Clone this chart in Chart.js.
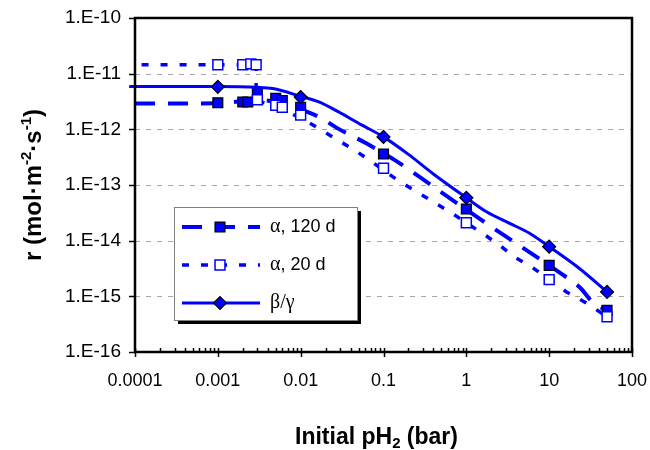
<!DOCTYPE html>
<html>
<head>
<meta charset="utf-8">
<script src="https://cdn.jsdelivr.net/npm/chart.js@4/dist/chart.umd.min.js"></script>
<style>
html, body { margin: 0; padding: 0; background: #ffffff; }
#c { display: block; }
</style>
</head>
<body>
<canvas id="c" width="650" height="450"></canvas>
<script>
// ---------- data ----------
const seriesNames = ['α, 120 d', 'α, 20 d', 'β/γ'];
const xTitleMain = 'Initial pH';
const xTitleSub = '2';
const xTitleTail = ' (bar)';
const yTitleParts = ['r (mol·m', '-2', '·s', '-1', ')'];

const xTicks = [0.0001, 0.001, 0.01, 0.1, 1, 10, 100];
const xTickLabels = ['0.0001', '0.001', '0.01', '0.1', '1', '10', '100'];
const yTicks = [1e-16, 1e-15, 1e-14, 1e-13, 1e-12, 1e-11, 1e-10];
const yTickLabels = ['1.E-16', '1.E-15', '1.E-14', '1.E-13', '1.E-12', '1.E-11', '1.E-10'];

// measured points: alpha, 120 d (filled squares)
const a120X = [0.001, 0.002, 0.0023, 0.003, 0.005, 0.006, 0.01, 0.1, 1, 10, 50];
const a120Y = [3.0e-12, 3.1e-12, 3.1e-12, 4.5e-12, 3.6e-12, 3.3e-12, 2.5e-12, 3.6e-13, 3.7e-14, 3.6e-15, 5.6e-16];
// measured points: alpha, 20 d (open squares)
const a20X = [0.001, 0.002, 0.0025, 0.0029, 0.003, 0.005, 0.006, 0.01, 0.1, 1, 10, 50];
const a20Y = [1.45e-11, 1.45e-11, 1.5e-11, 1.45e-11, 3.4e-12, 2.7e-12, 2.5e-12, 1.8e-12, 2.0e-13, 2.1e-14, 2.0e-15, 4.3e-16];
// measured points: beta/gamma (diamonds)
const bgX = [0.001, 0.01, 0.1, 1, 10, 50];
const bgY = [5.8e-12, 3.8e-12, 7.3e-13, 5.9e-14, 7.8e-15, 1.2e-15];

// model curves
const fit120X = [0.0001, 0.001, 0.002, 0.003, 0.006, 0.0118, 0.017, 0.028, 0.062, 0.137, 0.298, 0.63, 1.38, 2.78, 5.7, 13, 24, 33, 50];
const fit120Y = [2.9e-12, 2.95e-12, 3.2e-12, 3.4e-12, 2.9e-12, 2.08e-12, 1.64e-12, 1.04e-12, 5.6e-13, 2.8e-13, 1.27e-13, 5.8e-14, 2.6e-14, 1.28e-14, 6.3e-15, 2.75e-15, 1.4e-15, 8e-16, 5.5e-16];
const fit20X = [0.00012, 0.0029, 0.0029, 0.005, 0.0112, 0.0179, 0.0271, 0.043, 0.0652, 0.157, 0.25, 0.397, 0.63, 1.75, 2.65, 3.8, 6.1, 16.2, 28, 50];
const fit20Y = [1.45e-11, 1.45e-11, 3.3e-12, 2.6e-12, 1.47e-12, 9.7e-13, 6.6e-13, 4.4e-13, 2.9e-13, 1.15e-13, 7.6e-14, 5.0e-14, 3.3e-14, 1.21e-14, 7.8e-15, 5.1e-15, 3.4e-15, 1.2e-15, 7.6e-16, 4.3e-16];
const fitBgX = [0.000085, 0.001, 0.003, 0.0046, 0.0103, 0.0163, 0.0283, 0.0543, 0.0989, 0.2, 0.4, 1, 1.75, 3.33, 5.8, 10, 23, 50];
const fitBgY = [5.9e-12, 5.9e-12, 5.7e-12, 5.4e-12, 3.86e-12, 3.14e-12, 2.08e-12, 1.2e-12, 7.4e-13, 3.55e-13, 1.58e-13, 5.9e-14, 3.3e-14, 2.05e-14, 1.36e-14, 7.8e-15, 3.2e-15, 1.2e-15];

// ---------- helpers ----------
const pts = (xs, ys) => xs.map((x, i) => ({ x: x, y: ys[i] }));
const BLUE = '#0000ff';
const SANS = "'Liberation Sans', Arial, sans-serif";
const SERIF = "'Liberation Serif', 'Times New Roman', serif";

function drawMarker(ctx, ds, x, y) {
  ctx.save();
  ctx.setLineDash([]);
  ctx.fillStyle = ds.pointBackgroundColor;
  ctx.strokeStyle = ds.pointBorderColor;
  ctx.lineWidth = ds.pointBorderWidth;
  const r = ds.pointRadius;
  ctx.beginPath();
  if (ds.pointStyle === 'rectRot') {
    ctx.moveTo(x - r, y); ctx.lineTo(x, y - r); ctx.lineTo(x + r, y); ctx.lineTo(x, y + r); ctx.closePath();
  } else {
    const s = Math.SQRT1_2 * r;
    ctx.rect(x - s, y - s, 2 * s, 2 * s);
  }
  ctx.fill(); ctx.stroke();
  ctx.restore();
}

const legendRows = [
  { line: 0, marker: 1 },
  { line: 2, marker: 3 },
  { line: 4, marker: 5 }
];

function noPad(s) { s.paddingLeft = 0; s.paddingRight = 0; s.paddingTop = 0; s.paddingBottom = 0; }

const extras = {
  id: 'extras',
  beforeDatasetsDraw(chart) {
    const { ctx, chartArea: a } = chart;
    const ys = chart.scales.y;
    ctx.save();
    ctx.strokeStyle = '#a6a6a6';
    ctx.lineWidth = 1;
    ctx.setLineDash([5, 6]);
    yTicks.forEach((v, i) => {
      if (i === 0 || i === yTicks.length - 1) return;
      const py = Math.round(ys.getPixelForValue(v)) + 0.5;
      ctx.beginPath(); ctx.moveTo(a.left, py); ctx.lineTo(a.right, py); ctx.stroke();
    });
    ctx.restore();
  },
  afterDatasetsDraw(chart) {
    const { ctx, chartArea: a } = chart;
    const xs = chart.scales.x, ys = chart.scales.y;
    ctx.save();
    ctx.setLineDash([]);
    // frame
    ctx.strokeStyle = '#000';
    ctx.lineWidth = 2.5;
    ctx.strokeRect(a.left, a.top, a.right - a.left, a.bottom - a.top);
    // y ticks (outside)
    ctx.lineWidth = 1.5;
    yTicks.forEach(v => {
      const py = Math.round(ys.getPixelForValue(v)) + 0.5;
      ctx.beginPath(); ctx.moveTo(a.left - 6, py); ctx.lineTo(a.left, py); ctx.stroke();
    });
    // x major ticks (cross) and minor ticks (inside)
    xTicks.forEach((v, i) => {
      const px = Math.round(xs.getPixelForValue(v)) + 0.5;
      ctx.beginPath(); ctx.moveTo(px, a.bottom - 4); ctx.lineTo(px, a.bottom + 5); ctx.stroke();
      if (i < xTicks.length - 1) {
        for (let m = 2; m <= 9; m++) {
          const mx = Math.round(xs.getPixelForValue(v * m)) + 0.5;
          ctx.beginPath(); ctx.moveTo(mx, a.bottom - 4); ctx.lineTo(mx, a.bottom); ctx.stroke();
        }
      }
    });
    ctx.restore();

    // legend
    const ds = chart.data.datasets;
    const bx = a.left + 39, by = a.top + 189, bw = 183, bh = 113;
    ctx.save();
    ctx.fillStyle = '#000';
    ctx.fillRect(bx + 4, by + 4, bw, bh);
    ctx.fillStyle = '#fff';
    ctx.fillRect(bx, by, bw, bh);
    ctx.strokeStyle = '#808080';
    ctx.lineWidth = 1;
    ctx.strokeRect(bx + 0.5, by + 0.5, bw, bh);
    legendRows.forEach((row, i) => {
      const ly = by + 20 + i * 38;
      const lds = ds[row.line], mds = ds[row.marker];
      ctx.save();
      ctx.strokeStyle = lds.borderColor;
      ctx.lineWidth = lds.borderWidth;
      ctx.setLineDash(lds.borderDash || []);
      ctx.beginPath(); ctx.moveTo(bx + 8, ly); ctx.lineTo(bx + 86, ly); ctx.stroke();
      ctx.restore();
      drawMarker(ctx, mds, bx + 46, ly);
      const label = seriesNames[i];
      ctx.fillStyle = '#000';
      ctx.textBaseline = 'middle';
      ctx.textAlign = 'left';
      let tx = bx + 96;
      if (/^[α-ω\/]+$/.test(label)) {
        ctx.font = '20px ' + SERIF;
        ctx.fillText(label, tx, ly);
      } else {
        ctx.font = '20px ' + SERIF;
        ctx.fillText(label[0], tx, ly);
        tx += ctx.measureText(label[0]).width;
        ctx.font = '18px ' + SANS;
        ctx.fillText(label.slice(1), tx, ly);
      }
    });
    ctx.restore();

    // axis titles
    ctx.save();
    ctx.fillStyle = '#000';
    ctx.textBaseline = 'alphabetic';
    ctx.textAlign = 'left';
    let big = 'bold 23px ' + SANS, small = 'bold 15px ' + SANS;
    // x title
    ctx.font = big;
    const w1 = ctx.measureText(xTitleMain).width;
    const w3 = ctx.measureText(xTitleTail).width;
    ctx.font = small;
    const w2 = ctx.measureText(xTitleSub).width;
    let tx = (a.left + a.right) / 2 - 7 - (w1 + w2 + w3) / 2;
    const tyb = 444;
    ctx.font = big; ctx.fillText(xTitleMain, tx, tyb); tx += w1;
    ctx.font = small; ctx.fillText(xTitleSub, tx, tyb + 4); tx += w2;
    ctx.font = big; ctx.fillText(xTitleTail, tx, tyb);
    // y title (rotated)
    big = 'bold 24px ' + SANS; small = 'bold 15px ' + SANS;
    ctx.translate(41, (a.top + a.bottom) / 2);
    ctx.rotate(-Math.PI / 2);
    const widths = yTitleParts.map((p, i) => { ctx.font = (i % 2 ? small : big); return ctx.measureText(p).width; });
    let yx = -widths.reduce((s, w) => s + w, 0) / 2;
    yTitleParts.forEach((p, i) => {
      ctx.font = (i % 2 ? small : big);
      ctx.fillText(p, yx, i % 2 ? -10 : 0);
      yx += widths[i];
    });
    ctx.restore();
  }
};

new Chart(document.getElementById('c'), {
  type: 'scatter',
  data: {
    datasets: [
      { label: seriesNames[0], data: pts(fit120X, fit120Y), showLine: true, pointRadius: 0, borderColor: BLUE, borderWidth: 4, borderDash: [20, 13], cubicInterpolationMode: 'monotone', fill: false, order: 5 },
      { label: seriesNames[0], data: pts(a120X, a120Y), showLine: false, pointStyle: 'rect', pointRadius: 7, pointBackgroundColor: BLUE, pointBorderColor: '#000', pointBorderWidth: 1.2, order: 4 },
      { label: seriesNames[1], data: pts(fit20X, fit20Y), showLine: true, pointRadius: 0, borderColor: BLUE, borderWidth: 3.5, borderDash: [7, 12], tension: 0, fill: false, order: 3 },
      { label: seriesNames[1], data: pts(a20X, a20Y), showLine: false, pointStyle: 'rect', pointRadius: 7, pointBackgroundColor: '#ffffff', pointBorderColor: BLUE, pointBorderWidth: 1.5, order: 2 },
      { label: seriesNames[2], data: pts(fitBgX, fitBgY), showLine: true, pointRadius: 0, borderColor: BLUE, borderWidth: 3, cubicInterpolationMode: 'monotone', fill: false, order: 1, clip: { left: 8, top: 2, right: 2, bottom: 2 } },
      { label: seriesNames[2], data: pts(bgX, bgY), showLine: false, pointStyle: 'rectRot', pointRadius: 6.5, pointBackgroundColor: BLUE, pointBorderColor: '#000', pointBorderWidth: 1.2, order: 0 }
    ]
  },
  options: {
    responsive: false,
    animation: false,
    events: [],
    layout: { padding: { top: 18, right: 18, left: 0, bottom: 0 } },
    plugins: { legend: { display: false }, tooltip: { enabled: false }, title: { display: false } },
    scales: {
      x: {
        type: 'logarithmic', position: 'bottom', min: 1e-4, max: 100,
        afterBuildTicks: s => { s.ticks = xTicks.map(v => ({ value: v })); },
        afterFit: s => { s.height = 98; noPad(s); },
        ticks: { callback: (v, i) => xTickLabels[i], color: '#000', font: { family: SANS, size: 18 }, padding: 18, maxRotation: 0, autoSkip: false },
        grid: { display: false, drawTicks: false },
        border: { display: false }
      },
      y: {
        type: 'logarithmic', position: 'left', min: 1e-16, max: 1e-10,
        afterBuildTicks: s => { s.ticks = yTicks.map(v => ({ value: v })); },
        afterFit: s => { s.width = 135; noPad(s); },
        ticks: { callback: (v, i) => yTickLabels[i], color: '#000', font: { family: SANS, size: 19 }, padding: 14, autoSkip: false },
        grid: { display: false, drawTicks: false },
        border: { display: false }
      }
    }
  },
  plugins: [extras]
});
</script>
</body>
</html>
